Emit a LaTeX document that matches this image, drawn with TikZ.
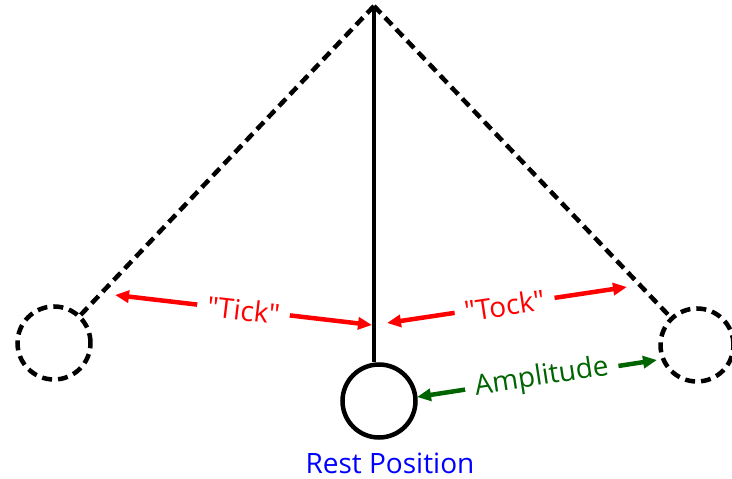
\documentclass[tikz,border=0pt]{standalone}
\usepackage{fontspec}
\setmainfont{Open Sans}
\usetikzlibrary{arrows.meta}
\definecolor{tickred}{RGB}{255,0,0}
\definecolor{ampgreen}{RGB}{0,100,0}
\definecolor{restblue}{RGB}{0,0,255}
\begin{document}
\begin{tikzpicture}[x=1pt,y=-1pt,
  bob/.style={circle, draw=black, line width=4.5pt, minimum size=73pt, inner sep=0pt},
  ghost/.style={bob, dash pattern=on 10pt off 6pt},
  swing/.style={line width=4.5pt, dash pattern=on 10pt off 6pt},
  rod/.style={line width=4.5pt},
  dbl/.style={line width=4.5pt, {Triangle[length=14pt,width=12pt]}-{Triangle[length=14pt,width=12pt]}},
  lbl/.style={fill=white, inner xsep=10pt, inner ysep=1pt, font=\fontsize{28}{32}\selectfont},
]
\useasboundingbox (0,0) rectangle (732,479);
\coordinate (pivot) at (374,6);
\node[ghost] (L) at (54,343) {};
\node[ghost] (R) at (697,345) {};
\node[bob] (C) at (379,401) {};
\draw[swing] (pivot) -- (L);
\draw[swing] (pivot) -- (R);
\draw[rod] (pivot) -- (pivot |- C.north);
\coordinate (tickL) at (115,295);
\coordinate (tickR) at (372,325);
\coordinate (tockL) at (387,323);
\coordinate (tockR) at (627,287);
\coordinate (ampL) at (417,397);
\coordinate (ampR) at (657,360);
\draw[dbl, tickred] (tickL) -- node[lbl, sloped, text=tickred, pos=0.5] (tick) {\textquotedbl Tick\textquotedbl} (tickR);
\draw[dbl, tickred] (tockL) -- node[lbl, sloped, text=tickred, pos=0.49] (tock) {\textquotedbl Tock\textquotedbl} (tockR);
\draw[dbl, ampgreen] (ampL) -- node[lbl, sloped, text=ampgreen, pos=0.52] (amp) {Amplitude} (ampR);
\node[text=restblue, font=\fontsize{28}{32}\selectfont] (rest) at (390,463) {Rest Position};
\end{tikzpicture}
\end{document}
